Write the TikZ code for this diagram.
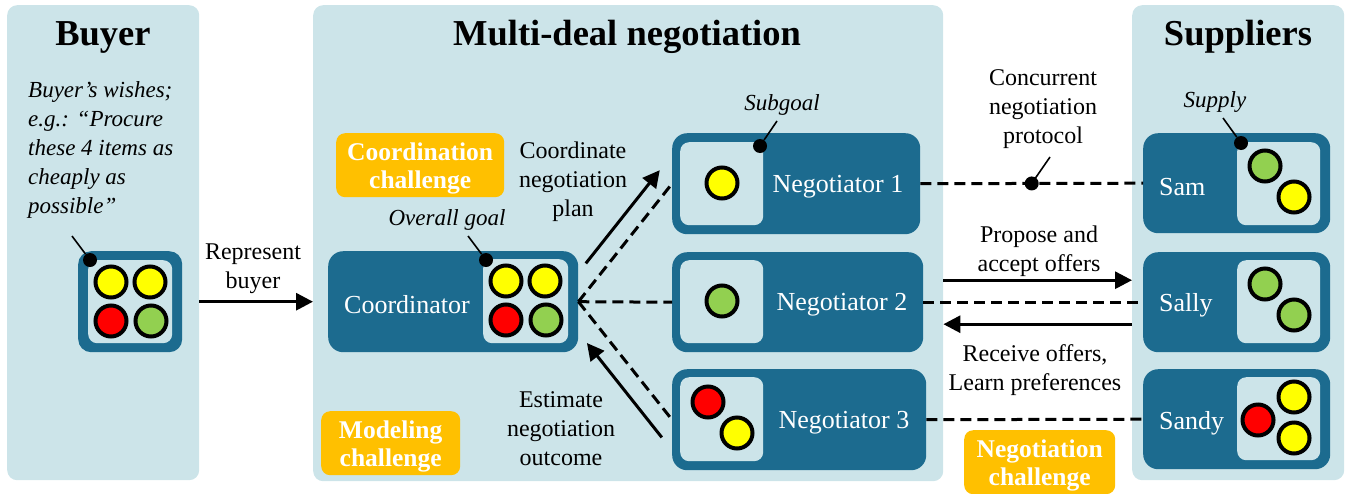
\documentclass[tikz,border=0pt]{standalone}
\usepackage{fontspec}
\setmainfont{Liberation Serif}
\usetikzlibrary{arrows.meta,calc}
\definecolor{panel}{HTML}{CCE4E9}
\definecolor{dark}{HTML}{1C6B8F}
\definecolor{chal}{HTML}{FFC000}
\definecolor{cyel}{HTML}{FFFF00}
\definecolor{cred}{HTML}{FF0000}
\definecolor{cgrn}{HTML}{92D050}
\tikzset{
  panelbox/.style={fill=panel, rounded corners=10pt, anchor=north west, inner sep=0pt},
  darkbox/.style={fill=dark, rounded corners=15pt, anchor=north west, inner sep=0pt},
  innerbox/.style={fill=panel, rounded corners=9pt, anchor=north west, inner sep=0pt},
  chalbox/.style={fill=chal, rounded corners=9pt, anchor=north west, inner sep=0pt, text=white, font=\fontsize{25.5}{28}\selectfont\bfseries, align=center, text depth=-4pt},
  title/.style={font=\fontsize{36.5}{40}\selectfont\bfseries},
  lab/.style={font=\fontsize{24}{29}\selectfont, align=center, inner sep=0pt, yshift=-3pt},
  itlab/.style={font=\fontsize{23}{29}\selectfont\itshape, inner sep=0pt, yshift=-1pt},
  wlab/.style={font=\fontsize{26}{29}\selectfont, text=white, inner sep=0pt},
  item/.style={circle, draw=black, line width=4pt, minimum size=31pt, inner sep=0pt},
  pindot/.style={circle, fill=black, minimum size=14pt, inner sep=0pt},
  pinline/.style={line width=1.6pt},
  arr/.style={line width=3pt, -{Triangle[length=17pt,width=17pt]}},
  dsh/.style={line width=3pt, dash pattern=on 11pt off 6pt},
}
\begin{document}
\begin{tikzpicture}[x=1pt,y=-1pt]
\useasboundingbox (0,0) rectangle (1348,493);
% panels
\node[panelbox, minimum width=192pt, minimum height=475pt] (bp) at (7,5) {};
\node[panelbox, minimum width=630pt, minimum height=476pt] (mp) at (313,5) {};
\node[panelbox, minimum width=212pt, minimum height=475pt] (sp) at (1132,5) {};
\node[title] (tb) at (103,37) {Buyer};
\node[title] (tm) at (627,37) {Multi-deal negotiation};
\node[title] (ts) at (1238,37) {Suppliers};
% buyer
\node[itlab, anchor=north west, align=left] (wish) at (28,80) {Buyer’s wishes;\\e.g.: “Procure\\these 4 items as\\cheaply as\\possible”};
\node[darkbox, rounded corners=13pt, minimum width=104pt, minimum height=101pt] (bbox) at (78,251) {};
\node[innerbox, minimum width=84pt, minimum height=83pt] (bin) at (88,260) {};
\node[item, fill=cyel] (b1) at (111,282) {};
\node[item, fill=cyel] (b2) at (150,282) {};
\node[item, fill=cred] (b3) at (111,321) {};
\node[item, fill=cgrn] (b4) at (151,321) {};
\node[pindot] (bdot) at (90,260) {};
\coordinate (bpin) at (72,236);
\draw[pinline] (bdot) -- (bpin);
% represent buyer
\node[lab] (rep) at (253,266) {Represent\\buyer};
\draw[arr] (bp.east |- bbox.east) -- (mp.west |- bbox.east);
% coordinator
\node[darkbox, minimum width=250pt, minimum height=101pt] (co) at (328,251) {};
\node[innerbox, minimum width=85pt, minimum height=84pt] (coin) at (483,259) {};
\node[wlab] (cotxt) at (407,305) {Coordinator};
\node[item, fill=cyel] (c1) at (506,281) {};
\node[item, fill=cyel] (c2) at (545,281) {};
\node[item, fill=cred] (c3) at (506,320) {};
\node[item, fill=cgrn] (c4) at (546,320) {};
\node[pindot] (codot) at (486,260) {};
\node[itlab] (ovg) at (447,219) {Overall goal};
\coordinate (copin) at (468,236);
\draw[pinline] (codot) -- (copin);
\node[chalbox, minimum width=168pt, minimum height=64pt] (cch) at (336,133) {Coordination\\challenge};
\node[chalbox, minimum width=139pt, minimum height=64pt] (mch) at (321,411) {Modeling\\challenge};
% negotiators
\node[darkbox, minimum width=248pt, minimum height=101pt] (n1) at (672,133) {};
\node[innerbox, minimum width=83pt, minimum height=83pt] (n1in) at (680,142) {};
\node[wlab] (n1t) at (838,187) {Negotiator 1};
\node[item, fill=cyel] (n1a) at (722,183) {};
\node[pindot] (n1dot) at (760,146) {};
\node[itlab] (sub) at (782,104) {Subgoal};
\coordinate (n1pin) at (777,121);
\draw[pinline] (n1dot) -- (n1pin);

\node[darkbox, minimum width=251pt, minimum height=100pt] (n2) at (672,252) {};
\node[innerbox, minimum width=83pt, minimum height=83pt] (n2in) at (680,260) {};
\node[wlab] (n2t) at (842,305) {Negotiator 2};
\node[item, fill=cgrn] (n2a) at (722,301) {};

\node[darkbox, minimum width=254pt, minimum height=101pt] (n3) at (672,369) {};
\node[innerbox, minimum width=83pt, minimum height=84pt] (n3in) at (680,377) {};
\node[wlab] (n3t) at (844,423) {Negotiator 3};
\node[item, fill=cred] (n3a) at (708,402) {};
\node[item, fill=cyel] (n3b) at (737,433) {};
% suppliers
\node[darkbox, minimum width=187pt, minimum height=100pt] (sam) at (1143,133) {};
\node[innerbox, minimum width=83pt, minimum height=83pt] (samin) at (1237,142) {};
\node[wlab, anchor=west] (samt) at (1159,187) {Sam};
\node[item, fill=cgrn] (sa1) at (1265,166) {};
\node[item, fill=cyel] (sa2) at (1294,197) {};
\node[pindot] (samdot) at (1241,143) {};
\node[itlab] (sup) at (1215,101) {Supply};
\coordinate (sampin) at (1223,118);
\draw[pinline] (samdot) -- (sampin);

\node[darkbox, minimum width=187pt, minimum height=100pt] (sally) at (1143,252) {};
\node[innerbox, minimum width=83pt, minimum height=83pt] (sallyin) at (1237,260) {};
\node[wlab, anchor=west] (sallyt) at (1159,305) {Sally};
\node[item, fill=cgrn] (sl1) at (1265,284) {};
\node[item, fill=cgrn] (sl2) at (1294,315) {};

\node[darkbox, minimum width=187pt, minimum height=100pt] (sandy) at (1143,369) {};
\node[innerbox, minimum width=83pt, minimum height=83pt] (sandyin) at (1237,377) {};
\node[wlab, anchor=west] (sandyt) at (1159,423) {Sandy};
\node[item, fill=cyel] (sd1) at (1294,397) {};
\node[item, fill=cred] (sd2) at (1258,420) {};
\node[item, fill=cyel] (sd3) at (1294,438) {};
% coordinator <-> negotiators
\draw[dsh] (co.east) -- (n1.west);
\draw[dsh] (co.east) -- (n2.west);
\draw[dsh] (co.east) -- (n3.west);
\draw[arr] ($(co.east)!0.23!(n1.west)!18pt!90:(n1.west)$) -- ($(co.east)!1.02!(n1.west)!18pt!-90:(co.east)$);
\draw[arr] ($(co.east)!1.05!(n3.west)!19pt!90:(co.east)$) -- ($(co.east)!0.25!(n3.west)!19pt!-90:(n3.west)$);
\node[lab] (cnp) at (573,179) {Coordinate\\negotiation\\plan};
\node[lab] (eno) at (561,426) {Estimate\\negotiation\\outcome};
% negotiators <-> suppliers
\draw[dsh] (n1.east) -- (sam.west);
\node[pindot] (pdot) at ($(n1.east)!0.5!(sam.west)$) {};
\coordinate (ppin) at (1050,157);
\draw[pinline] (pdot.center) -- (ppin);
\node[lab] (proto) at (1043,106) {Concurrent\\negotiation\\protocol};
\draw[dsh] (n2.east) -- (sally.west);
\draw[dsh] (n3.east) -- (sandy.west);
\draw[arr] ($(mp.east |- sally.west)+(0,-22)$) -- ($(sp.west |- sally.west)+(0,-22)$);
\draw[arr] ($(sp.west |- sally.west)+(0,22)$) -- ($(mp.east |- sally.west)+(0,22)$);
\node[lab] (prop) at (1039,248) {Propose and\\accept offers};
\node[lab] (recv) at (1035,367) {Receive offers,\\Learn preferences};
\node[chalbox, minimum width=151pt, minimum height=64pt] (nch) at (964,430) {Negotiation\\challenge};
\end{tikzpicture}
\end{document}
